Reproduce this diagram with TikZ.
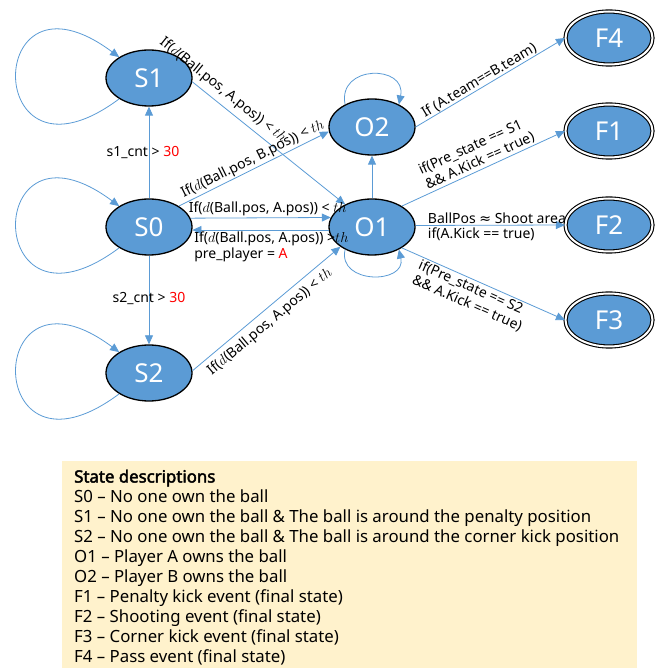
\documentclass[tikz,border=0pt]{standalone}
\usepackage{fontspec}
\setmainfont{Noto Sans}[AutoFakeBold=2.5]
\newfontfamily\symfont{DejaVu Sans}
\usetikzlibrary{arrows.meta,shapes.geometric}
\definecolor{nodeblue}{HTML}{5B9BD5}
\definecolor{edgeblue}{HTML}{5B9BD5}
\definecolor{boxyellow}{HTML}{FFF2CC}
\begin{document}
\begin{tikzpicture}[x=1pt,y=1pt,
 state/.style={ellipse, draw=black, line width=1.3pt, fill=nodeblue, minimum width=86pt, minimum height=56pt, inner sep=0pt, text=white, font=\fontsize{26}{26}\selectfont},
 final/.style={state, double=white, double distance=2pt, line width=1.1pt, minimum width=87pt, minimum height=53pt},
 edge/.style={draw=edgeblue, line width=0.8pt, -{Triangle[length=9pt,width=8pt]}},
 lab/.style={font=\fontsize{14}{16}\selectfont, text=black, inner sep=1.5pt},
 desc/.style={anchor=base west, inner sep=0pt, font=\fontsize{16.8}{20}\selectfont}
]
\useasboundingbox (0,0) rectangle (670,-668);

% description box
\node[fill=boxyellow, anchor=north west, minimum width=575pt, minimum height=207pt, inner sep=0pt] (descbox) at (62,-461) {};
\node[desc, font=\fontsize{16.8}{20}\selectfont\bfseries] (d0) at (74,-482.5) {State descriptions};
\foreach \t [count=\i] in {
 {S0 – No one own the ball},
 {S1 – No one own the ball \& The ball is around the penalty position},
 {S2 – No one own the ball \& The ball is around the corner kick position},
 {O1 – Player A owns the ball},
 {O2 – Player B owns the ball},
 {F1 – Penalty kick event (final state)},
 {F2 – Shooting event (final state)},
 {F3 – Corner kick event (final state)},
 {F4 – Pass event (final state)}}
 { \node[desc] (d\i) at (74,-482.5-20*\i) {\t}; }

% states
\node[state] (S1) at (149,-78) {S1};
\node[state] (S0) at (149,-227) {S0};
\node[state] (S2) at (149,-373) {S2};
\node[state] (O1) at (372,-227) {O1};
\node[state] (O2) at (372,-127) {O2};
\node[final] (F4) at (609,-38) {F4};
\node[final] (F1) at (609,-131) {F1};
\node[final] (F2) at (609,-225) {F2};
\node[final] (F3) at (609,-320) {F3};

% self loops
\draw[edge] (S1.215) .. controls +(-137,-102) and +(-137,102) .. (S1.145);
\draw[edge] (S0.215) .. controls +(-137,-102) and +(-137,102) .. (S0.145);
\draw[edge] (S2.215) .. controls +(-137,-102) and +(-137,102) .. (S2.145);
\draw[edge] (O2.140) .. controls +(-8,40) and +(8,40) .. (O2.40);
\draw[edge] (O1.220) .. controls +(-8,-35) and +(8,-35) .. (O1.320);

% transitions
\draw[edge] (S0) -- node[lab, pos=0.5, xshift=-6pt]{s1\_cnt\ >\ \textcolor{red}{30}} (S1);
\draw[edge] (S0) -- node[lab, pos=0.48]{s2\_cnt\ >\ \textcolor{red}{30}} (S2);
\draw[edge] (S1.-5) -- node[lab, sloped, above=3.5pt, pos=0.15]{If($d$(Ball.pos,\ A.pos))\ <\ $th$} (O1.140);
\draw[edge] (S0.35) -- node[lab, sloped, above, pos=0.52]{If($d$(Ball.pos,\ B.pos))\ <\ $th$} (O2.186);
\draw[edge] (S0.12.5) -- node[lab, above, pos=0.55]{If($d$(Ball.pos,\ A.pos))\ <\ $th$} (O1.167.5);
\draw[edge] (O1.184) -- node[lab, anchor=north west, pos=1, align=left]{If($d$(Ball.pos,\ A.pos))\ >$th$\\pre\_player = \textcolor{red}{A}} (S0.-4);
\draw[edge] (S2.3) -- node[lab, sloped, below=3.5pt, pos=0.47]{If($d$(Ball.pos,\ A.pos))\ <\ $th$} (O1.212);
\draw[edge] (O1) -- (O2);
\draw[edge] (O2.east) -- node[lab, sloped, above, pos=0.45, inner sep=0.5pt]{If (A.team==B.team)} (F4.west);
\draw[edge] (O1.35) -- node[lab, sloped, above, pos=0.5, align=left]{if(Pre\_state == S1\\\&\& A.Kick == true)} (F1.west);
\draw[edge] (O1.2) -- node[lab, pos=0.07, anchor=south west]{BallPos {\symfont ≈} Shoot area} node[lab, pos=0.07, anchor=north west]{if(A.Kick == true)} (F2.west);
\draw[edge] (O1.-35) -- node[lab, sloped, below, pos=0.46, align=left]{if(Pre\_state == S2\\\&\& A.Kick == true)} (F3.west);
\end{tikzpicture}
\end{document}
